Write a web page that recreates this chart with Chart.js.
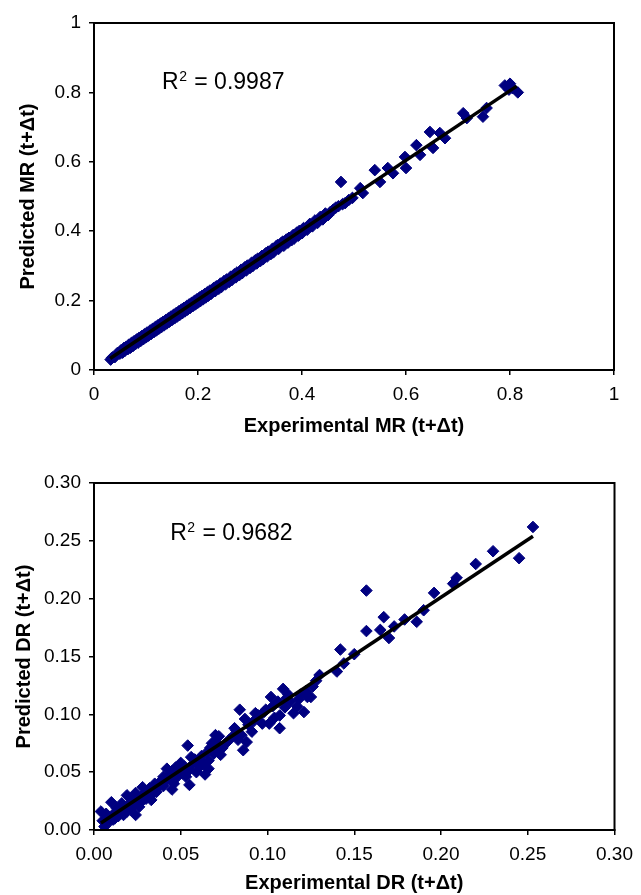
<!DOCTYPE html>
<html><head><meta charset="utf-8">
<script src="https://cdn.jsdelivr.net/npm/chart.js@4.4.1/dist/chart.umd.min.js"></script>
<style>
html,body{margin:0;padding:0;background:#fff;width:641px;height:895px;overflow:hidden}
.c{position:absolute;left:0}
#wrapA{top:0;width:641px;height:450px}
#wrapB{top:450px;width:641px;height:445px}
</style></head><body>
<div class="c" id="wrapA"><canvas id="cA" width="641" height="450"></canvas></div>
<div class="c" id="wrapB"><canvas id="cB" width="641" height="445"></canvas></div>
<script>
// ---------- Top chart: moisture ratio ----------
const mrExp = [
0.032,0.035,0.040,0.045,0.050,0.052,0.055,0.058,0.060,0.062,
0.065,0.067,0.070,0.072,0.075,0.077,0.080,0.082,0.085,0.087,
0.090,0.092,0.095,0.097,0.100,0.102,0.105,0.108,0.110,0.113,
0.115,0.118,0.120,0.123,0.125,0.128,0.130,0.133,0.135,0.138,
0.140,0.143,0.145,0.148,0.150,0.153,0.155,0.158,0.160,0.163,
0.165,0.168,0.170,0.173,0.175,0.178,0.180,0.183,0.185,0.188,
0.190,0.193,0.195,0.198,0.200,0.203,0.205,0.208,0.210,0.213,
0.215,0.218,0.220,0.223,0.225,0.230,0.233,0.235,0.240,0.243,
0.245,0.250,0.253,0.255,0.260,0.263,0.265,0.270,0.273,0.275,
0.280,0.283,0.285,0.290,0.293,0.295,0.300,0.303,0.305,0.310,
0.313,0.315,0.320,0.323,0.325,0.330,0.333,0.335,0.340,0.343,
0.345,0.350,0.353,0.355,0.360,0.363,0.365,0.370,0.373,0.375,
0.380,0.383,0.385,0.390,0.393,0.395,0.400,0.403,0.410,0.415,
0.420,0.425,0.430,0.435,0.440,0.445,0.450,0.455,0.460,0.465,
0.470,0.475,0.478,0.483,0.490,0.497,0.512,0.517,0.540,0.550,
0.565,0.575,0.598,0.600,0.620,0.627,0.646,0.652,0.665,0.675,
0.710,0.717,0.748,0.755,0.790,0.800,0.805,0.815,0.798];
const mrPred = [
0.030,0.036,0.037,0.049,0.047,0.057,0.050,0.064,0.056,0.067,
0.060,0.073,0.064,0.078,0.069,0.083,0.075,0.088,0.079,0.093,
0.084,0.098,0.089,0.103,0.094,0.108,0.099,0.114,0.104,0.119,
0.109,0.124,0.114,0.129,0.119,0.134,0.124,0.139,0.129,0.144,
0.134,0.149,0.139,0.154,0.144,0.159,0.149,0.164,0.154,0.169,
0.159,0.174,0.164,0.179,0.169,0.184,0.174,0.189,0.179,0.194,
0.184,0.199,0.189,0.204,0.194,0.209,0.199,0.214,0.204,0.219,
0.209,0.224,0.214,0.229,0.219,0.236,0.227,0.241,0.234,0.249,
0.239,0.256,0.247,0.261,0.254,0.269,0.259,0.276,0.267,0.281,
0.274,0.289,0.279,0.296,0.287,0.301,0.294,0.309,0.299,0.316,
0.307,0.321,0.314,0.329,0.319,0.336,0.327,0.341,0.334,0.349,
0.339,0.356,0.360,0.349,0.366,0.370,0.358,0.376,0.367,0.381,
0.374,0.389,0.379,0.396,0.387,0.401,0.394,0.409,0.404,0.421,
0.414,0.431,0.424,0.441,0.434,0.451,0.446,0.456,0.462,0.468,
0.472,0.542,0.478,0.481,0.490,0.496,0.524,0.510,0.576,0.542,
0.582,0.567,0.614,0.582,0.648,0.620,0.686,0.640,0.683,0.668,
0.740,0.726,0.730,0.755,0.820,0.825,0.812,0.800,0.808];
const mrTrendX = [0.031, 0.813];
const mrTrendY = [0.033, 0.818];
const mrTickValues = [0, 0.2, 0.4, 0.6, 0.8, 1];
const mrTickLabels = ['0', '0.2', '0.4', '0.6', '0.8', '1'];
const mrR2 = '0.9987';

// ---------- Bottom chart: drying rate ----------
const drExp = [0.253,0.245,0.230,0.220,0.209,0.207,0.196,0.190,0.186,0.179,0.173,0.170,0.167,0.165,0.157,0.157,0.150,0.142,0.144,0.140,0.130,0.128,0.123,
0.109,0.111,0.102,0.125,0.117,0.121,0.115,0.107,0.098,0.101,0.107,0.093,0.084,0.087,0.091,0.088,0.086,0.081,0.076,0.070,0.068,0.073,0.066,0.064,0.061,0.054,0.056,0.055,0.050,0.047,0.045,0.042,0.039,0.035,0.031,0.028,0.024,0.024,0.019,0.016,0.013,0.010,0.007,0.004,0.006,0.011,0.014,0.019,0.026,0.033,
0.005,0.008,0.009,0.012,0.012,0.015,0.017,0.018,0.020,0.021,0.022,0.023,0.025,0.027,0.028,0.030,0.030,0.032,0.033,0.035,0.036,0.037,0.038,0.040,0.040,0.041,0.043,0.044,0.045,0.046,0.047,0.048,0.049,0.051,0.052,0.053,0.055,0.057,0.058,0.059,0.060,0.062,0.063,0.065,0.066,0.067,0.069,0.070,0.071,0.072,0.074,0.078,0.080,0.082,0.083,0.085,0.089,0.092,0.095,0.097,0.099,0.103,0.104,0.106,0.110,0.112,0.113,0.118,0.119,0.122,0.126];
const drPred = [0.262,0.235,0.241,0.230,0.218,0.213,0.205,0.190,0.180,0.182,0.176,0.166,0.184,0.173,0.207,0.172,0.152,0.156,0.144,0.137,0.134,0.129,0.115,
0.122,0.114,0.115,0.115,0.107,0.102,0.101,0.099,0.102,0.092,0.088,0.101,0.104,0.096,0.085,0.076,0.069,0.088,0.075,0.082,0.075,0.065,0.060,0.048,0.055,0.073,0.063,0.039,0.058,0.049,0.035,0.053,0.043,0.035,0.029,0.037,0.013,0.032,0.030,0.023,0.019,0.024,0.014,0.016,0.003,0.009,0.012,0.016,0.020,0.030,
0.008,0.006,0.011,0.010,0.015,0.017,0.013,0.020,0.022,0.018,0.026,0.021,0.027,0.024,0.030,0.027,0.033,0.036,0.026,0.040,0.033,0.037,0.041,0.038,0.046,0.042,0.047,0.044,0.051,0.040,0.054,0.046,0.052,0.049,0.055,0.046,0.052,0.057,0.061,0.050,0.058,0.064,0.058,0.067,0.053,0.071,0.066,0.077,0.069,0.081,0.071,0.078,0.081,0.086,0.078,0.082,0.091,0.094,0.099,0.092,0.104,0.107,0.097,0.111,0.106,0.117,0.111,0.113,0.117,0.120,0.124];
const drTrendX = [0.004, 0.253];
const drTrendY = [0.006, 0.254];
const drTickValues = [0, 0.05, 0.10, 0.15, 0.20, 0.25, 0.30];
const drTickLabels = ['0.00', '0.05', '0.10', '0.15', '0.20', '0.25', '0.30'];
const drR2 = '0.9682';

const FONT = '"Liberation Sans", Arial, Helvetica, sans-serif';
const NAVY = '#000080';

const framePlugin = {
  id: 'frame',
  afterDatasetsDraw(chart) {
    const a = chart.chartArea, ctx = chart.ctx;
    ctx.save();
    ctx.strokeStyle = '#000';
    ctx.lineWidth = 2;
    ctx.strokeRect(a.left, a.top, a.right - a.left, a.bottom - a.top);
    ctx.restore();
  }
};
const r2Plugin = {
  id: 'r2label',
  afterDraw(chart, args, opts) {
    const ctx = chart.ctx;
    const x = chart.scales.x.getPixelForValue(opts.x);
    const y = chart.scales.y.getPixelForValue(opts.y);
    ctx.save();
    ctx.fillStyle = '#000';
    ctx.textBaseline = 'alphabetic';
    ctx.textAlign = 'left';
    ctx.font = '23px ' + FONT;
    ctx.fillText('R', x, y);
    const wR = ctx.measureText('R').width;
    ctx.font = '14px ' + FONT;
    ctx.fillText('2', x + wR + 0.5, y - 8);
    const w2 = ctx.measureText('2').width;
    ctx.font = '23px ' + FONT;
    ctx.fillText(' = ' + opts.text, x + wR + w2 + 1.5, y);
    ctx.restore();
  }
};

function pts(xs, ys) { return xs.map((v, i) => ({x: v, y: ys[i]})); }

function makeChart(canvas, cfg) {
  const axisCommon = (vals, labels, min, max, fitter, title, titlePad) => ({
    type: 'linear', min: min, max: max,
    afterBuildTicks: s => { s.ticks = vals.map(v => ({value: v})); },
    afterFit: fitter,
    grid: { drawOnChartArea: false, drawTicks: true, tickLength: 5, color: '#000', tickColor: '#000', lineWidth: 1.5 },
    border: { display: true, color: '#000', width: 2 },
    ticks: { color: '#000', padding: 8, font: { family: FONT, size: 19 }, maxRotation: 0, autoSkip: false,
      callback: (v, i) => labels[i] },
    title: { display: true, text: title, color: '#000', font: { family: FONT, size: 20, weight: 'bold' }, padding: titlePad }
  });
  return new Chart(canvas, {
    type: 'scatter',
    data: {
      datasets: [
        { type: 'line', data: pts(cfg.trendX, cfg.trendY), showLine: true, borderColor: '#000', borderWidth: 3.5,
          pointRadius: 0, fill: false, order: 0 },
        { data: pts(cfg.xs, cfg.ys), pointStyle: 'rectRot', pointRadius: 5.8, backgroundColor: NAVY,
          borderColor: NAVY, borderWidth: 1, order: 1 }
      ]
    },
    options: {
      responsive: false, animation: false, devicePixelRatio: 1,
      layout: { padding: cfg.padding },
      plugins: { legend: { display: false }, tooltip: { enabled: false },
        r2label: { x: cfg.r2x, y: cfg.r2y, text: cfg.r2 } },
      scales: {
        x: axisCommon(cfg.tickVals, cfg.tickLabels, 0, cfg.max, s => { s.height = cfg.xH; }, cfg.xTitle, { top: 0, bottom: cfg.xTitlePad }),
        y: axisCommon(cfg.tickVals, cfg.tickLabels, 0, cfg.max, s => { s.width = 94; }, cfg.yTitle, { top: cfg.yTitlePad, bottom: 0 })
      }
    },
    plugins: [framePlugin, r2Plugin]
  });
}

makeChart(document.getElementById('cA'), {
  xs: mrExp, ys: mrPred, trendX: mrTrendX, trendY: mrTrendY,
  tickVals: mrTickValues, tickLabels: mrTickLabels, max: 1,
  padding: { left: 0, right: 27, top: 23, bottom: 0 }, xH: 80, xTitlePad: 12, yTitlePad: 16,
  xTitle: 'Experimental MR (t+\u0394t)', yTitle: 'Predicted MR (t+\u0394t)',
  r2: mrR2, r2x: 0.1308, r2y: 0.8098
});
makeChart(document.getElementById('cB'), {
  xs: drExp, ys: drPred, trendX: drTrendX, trendY: drTrendY,
  tickVals: drTickValues, tickLabels: drTickLabels, max: 0.3,
  padding: { left: 0, right: 21, top: 33, bottom: 0 }, xH: 65, xTitlePad: 0, yTitlePad: 12,
  xTitle: 'Experimental DR (t+\u0394t)', yTitle: 'Predicted DR (t+\u0394t)',
  r2: drR2, r2x: 0.0439, r2y: 0.2507
});
</script>
</body></html>
